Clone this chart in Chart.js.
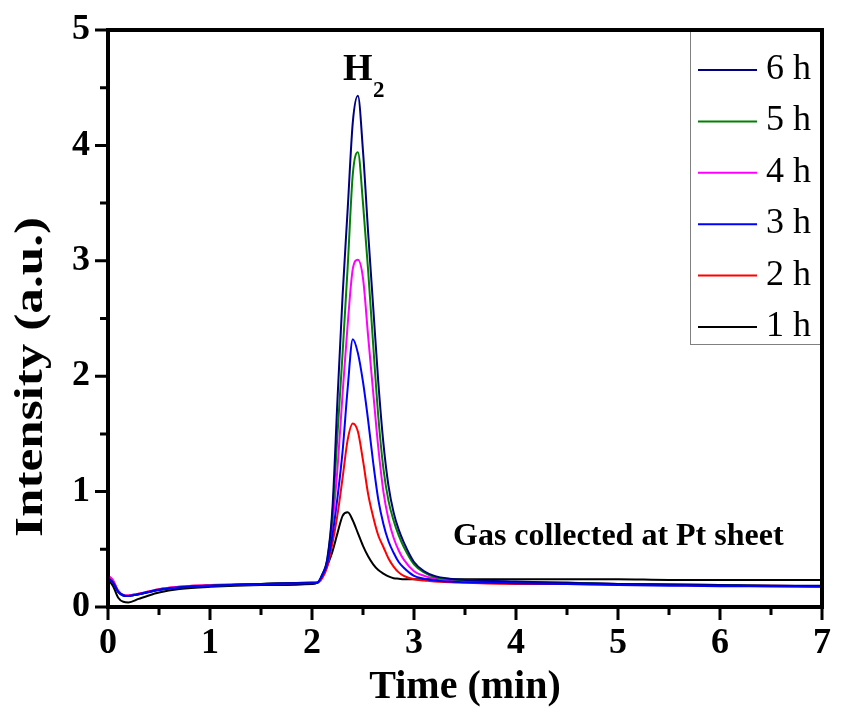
<!DOCTYPE html>
<html>
<head>
<meta charset="utf-8">
<title>H2 peak - gas collected at Pt sheet</title>
<script src="https://cdn.jsdelivr.net/npm/chart.js@4.4.1/dist/chart.umd.min.js"></script>
<style>
  html, body { margin: 0; padding: 0; background: #fff; }
  #wrap { width: 860px; height: 708px; }
</style>
</head>
<body>
<div id="wrap"><canvas id="chart" width="860" height="708"></canvas></div>
<script>
// retention time (min)
const time = [0, 0.05, 0.1, 0.15, 0.2, 0.3, 0.4, 0.5, 0.7, 1.0, 1.5, 2.0, 2.05, 2.1, 2.15, 2.2, 2.25, 2.3, 2.35, 2.4,
  2.45, 2.5, 2.55, 2.6, 2.65, 2.7, 2.75, 2.8, 2.85, 2.9, 3.0, 3.1, 3.2, 3.35, 3.5, 4.0, 4.5, 5.0, 5.5, 6.0, 6.5, 7.0];

// intensity (a.u.), one array per collection time
const h6 = [0.25, 0.21, 0.13, 0.10, 0.095, 0.11, 0.13, 0.15, 0.17, 0.185, 0.2, 0.21, 0.21, 0.28, 0.42, 0.85, 1.8, 2.7, 3.45, 4.2,
  4.43, 3.95, 3.25, 2.6, 1.95, 1.42, 1.05, 0.82, 0.67, 0.56, 0.39, 0.31, 0.27, 0.245, 0.235, 0.22, 0.21, 0.2, 0.195, 0.19, 0.185, 0.185];
const h5 = [0.25, 0.21, 0.13, 0.10, 0.095, 0.11, 0.13, 0.15, 0.17, 0.185, 0.2, 0.21, 0.21, 0.28, 0.41, 0.8, 1.5, 2.2, 2.95, 3.75,
  3.94, 3.5, 2.92, 2.27, 1.65, 1.2, 0.92, 0.75, 0.62, 0.52, 0.37, 0.3, 0.26, 0.24, 0.23, 0.215, 0.21, 0.2, 0.195, 0.19, 0.185, 0.18];
const h4 = [0.27, 0.23, 0.14, 0.105, 0.1, 0.115, 0.135, 0.155, 0.175, 0.19, 0.2, 0.21, 0.21, 0.27, 0.4, 0.72, 1.2, 1.85, 2.45, 2.93,
  3.01, 2.85, 2.35, 1.86, 1.38, 1.0, 0.76, 0.6, 0.49, 0.41, 0.31, 0.27, 0.25, 0.235, 0.23, 0.215, 0.21, 0.2, 0.195, 0.19, 0.185, 0.18];
const h3 = [0.25, 0.21, 0.13, 0.10, 0.095, 0.11, 0.13, 0.148, 0.168, 0.183, 0.198, 0.205, 0.21, 0.27, 0.38, 0.62, 0.95, 1.35, 1.9, 2.32,
  2.2, 1.95, 1.62, 1.25, 0.93, 0.72, 0.57, 0.47, 0.39, 0.34, 0.27, 0.245, 0.23, 0.22, 0.215, 0.205, 0.2, 0.19, 0.185, 0.18, 0.178, 0.175];
const h2 = [0.27, 0.23, 0.14, 0.105, 0.1, 0.115, 0.135, 0.155, 0.175, 0.19, 0.2, 0.21, 0.21, 0.25, 0.35, 0.55, 0.8, 1.12, 1.45, 1.59,
  1.52, 1.27, 0.98, 0.78, 0.62, 0.52, 0.42, 0.35, 0.3, 0.27, 0.24, 0.23, 0.22, 0.215, 0.21, 0.2, 0.2, 0.195, 0.19, 0.185, 0.185, 0.18];
const h1 = [0.24, 0.18, 0.08, 0.045, 0.04, 0.07, 0.1, 0.125, 0.155, 0.175, 0.19, 0.2, 0.21, 0.26, 0.36, 0.48, 0.64, 0.79, 0.82, 0.75,
  0.64, 0.53, 0.44, 0.37, 0.32, 0.29, 0.265, 0.25, 0.245, 0.24, 0.24, 0.24, 0.24, 0.24, 0.24, 0.24, 0.24, 0.24, 0.235, 0.235, 0.235, 0.235];

const seriesLabels = ['6 h', '5 h', '4 h', '3 h', '2 h', '1 h'];
const seriesValues = [h6, h5, h4, h3, h2, h1];
const seriesColors = ['#000080', '#008000', '#ff00ff', '#0000ff', '#ff0000', '#000000'];

const xMin = 0, xMax = 7, xStep = 0.5;
const yMin = 0, yMax = 5, yStep = 0.5;

const SERIF = "'Liberation Serif', 'Times New Roman', serif";

const datasets = seriesLabels.map((label, i) => ({
  label: label,
  data: time.map((t, k) => ({ x: t, y: seriesValues[i][k] })),
  borderColor: seriesColors[i],
  borderWidth: 2,
  pointRadius: 0,
  fill: false,
  cubicInterpolationMode: 'monotone',
  order: label === '3 h' ? -1 : 0
}));

// frame, ticks, titles, annotations and the boxed legend
const decor = {
  id: 'decor',
  afterDatasetsDraw(chart) {
    const ctx = chart.ctx;
    const a = chart.chartArea;
    const xs = chart.scales.x, ys = chart.scales.y;
    ctx.save();

    // legend box
    const boxL = 690, boxT = a.top, boxB = 344;
    ctx.fillStyle = '#fff';
    ctx.fillRect(boxL, boxT, a.right - boxL, boxB - boxT);
    ctx.strokeStyle = '#808080';
    ctx.lineWidth = 1;
    ctx.strokeRect(boxL + 0.5, boxT, a.right - boxL, boxB - boxT + 0.5);
    ctx.font = '36px ' + SERIF;
    ctx.textAlign = 'left';
    ctx.textBaseline = 'alphabetic';
    chart.data.datasets.forEach((ds, i) => {
      const y = 70 + i * 51.4;
      ctx.strokeStyle = ds.borderColor;
      ctx.lineWidth = 2;
      ctx.beginPath();
      ctx.moveTo(698, y);
      ctx.lineTo(757, y);
      ctx.stroke();
      ctx.fillStyle = '#000';
      ctx.fillText(ds.label, 766, y + 9);
    });

    // frame
    ctx.strokeStyle = '#000';
    ctx.lineWidth = 4;
    ctx.strokeRect(a.left, a.top, a.right - a.left, a.bottom - a.top);

    // outward ticks, long at integers
    ctx.lineWidth = 3;
    ctx.beginPath();
    for (let v = xMin; v <= xMax + 1e-9; v += xStep) {
      const px = xs.getPixelForValue(v);
      const len = Number.isInteger(v) ? 13 : 8;
      ctx.moveTo(px, a.bottom);
      ctx.lineTo(px, a.bottom + len);
    }
    for (let v = yMin; v <= yMax + 1e-9; v += yStep) {
      const py = ys.getPixelForValue(v);
      const len = Number.isInteger(v) ? 13 : 8;
      ctx.moveTo(a.left, py);
      ctx.lineTo(a.left - len, py);
    }
    ctx.stroke();

    // axis titles
    ctx.fillStyle = '#000';
    ctx.font = 'bold 40px ' + SERIF;
    ctx.textAlign = 'center';
    ctx.fillText('Time (min)', (a.left + a.right) / 2, 698);

    ctx.save();
    ctx.translate(42, 377);
    ctx.rotate(-Math.PI / 2);
    const yTitle = 'Intensity (a.u.)';
    const w = ctx.measureText(yTitle).width;
    ctx.scale(320 / w, 1);
    ctx.fillText(yTitle, 0, 0);
    ctx.restore();

    // peak label H2
    ctx.textAlign = 'left';
    ctx.font = 'bold 38px ' + SERIF;
    ctx.fillText('H', 343, 80);
    ctx.font = 'bold 23px ' + SERIF;
    ctx.fillText('2', 373, 97);

    ctx.font = 'bold 32px ' + SERIF;
    ctx.fillText('Gas collected at Pt sheet', 453, 545);

    ctx.restore();
  }
};

const tickFont = { family: SERIF, size: 36, weight: 'bold' };
const intLabel = v => Number.isInteger(v) ? String(v) : '';

new Chart(document.getElementById('chart'), {
  type: 'line',
  data: { datasets: datasets },
  options: {
    responsive: false,
    animation: false,
    devicePixelRatio: 1,
    layout: { padding: { top: 30, right: 38, left: 0, bottom: 0 } },
    plugins: { legend: { display: false }, tooltip: { enabled: false } },
    scales: {
      x: {
        type: 'linear',
        min: xMin,
        max: xMax,
        ticks: { stepSize: xStep, autoSkip: false, maxRotation: 0, font: tickFont, color: '#000', padding: 15, callback: intLabel },
        grid: { display: false, drawTicks: false },
        border: { display: false },
        afterFit: s => { s.height = 101; s.paddingLeft = 0; s.paddingRight = 0; }
      },
      y: {
        type: 'linear',
        min: yMin,
        max: yMax,
        ticks: { stepSize: yStep, autoSkip: false, font: tickFont, color: '#000', padding: 18, callback: intLabel },
        grid: { display: false, drawTicks: false },
        border: { display: false },
        afterFit: s => { s.width = 108; s.paddingTop = 0; s.paddingBottom = 0; }
      }
    }
  },
  plugins: [decor]
});
</script>
</body>
</html>
